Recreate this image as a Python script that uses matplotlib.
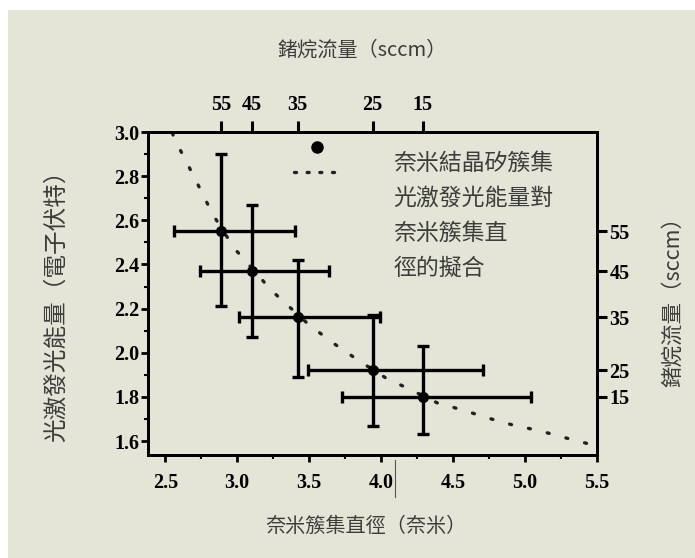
import matplotlib
matplotlib.use('Agg')
import matplotlib.pyplot as plt
from matplotlib.patches import Rectangle
from matplotlib.lines import Line2D
from matplotlib.ticker import MultipleLocator

# nanocluster diameter (nm) vs PL energy (eV)
diam = [2.89, 3.10, 3.42, 3.94, 4.29]
energy = [2.55, 2.37, 2.16, 1.92, 1.80]
diam_lo = [0.33, 0.36, 0.41, 0.45, 0.56]
diam_hi = [0.51, 0.54, 0.57, 0.77, 0.75]
energy_lo = [0.34, 0.30, 0.27, 0.25, 0.17]
energy_hi = [0.35, 0.30, 0.26, 0.25, 0.23]
flow = ['55', '45', '35', '25', '15']

# dotted fit curve
fit_x = [2.55, 2.56, 2.65, 2.74, 2.83, 2.94, 3.00, 3.24, 3.50, 3.68, 3.85,
         4.03, 4.21, 4.39, 4.57, 4.75, 4.92, 5.10, 5.28, 5.45, 5.50]
fit_y = [2.995, 2.974, 2.861, 2.745, 2.627, 2.514, 2.458, 2.281, 2.126, 2.038, 1.962,
         1.887, 1.831, 1.773, 1.740, 1.703, 1.672, 1.647, 1.615, 1.586, 1.578]

cjk = ['Noto Sans CJK TC', 'DejaVu Sans']
txt_col = '#3c3c3c'
bg = '#e4e5d6'
tick_font = {'family': 'Liberation Serif', 'weight': 'bold', 'size': 14.5}
dots = (0, (0.6, 5.2))

fig = plt.figure(figsize=(6.95, 5.58), dpi=100)
fig.patch.set_facecolor('white')
fig.patches.append(Rectangle((8/695, 0), 1, 1 - 10/558, transform=fig.transFigure,
                             facecolor=bg, edgecolor='none', zorder=-5))

ax = fig.add_axes([148/695, 1 - 455/558, 449/695, 323/558])
ax.set_facecolor(bg)
ax.set_xlim(2.38, 5.5)
ax.set_ylim(1.537, 3.0)

ax.plot(fit_x, fit_y, color='#222222', lw=2.4, linestyle=dots,
        dash_capstyle='round', zorder=2)
ax.errorbar(diam, energy, xerr=[diam_lo, diam_hi], yerr=[energy_lo, energy_hi],
            fmt='o', color='black', ms=7, elinewidth=2.4, capsize=4.5, capthick=2.4,
            zorder=3)

for s in ax.spines.values():
    s.set_linewidth(2)
ax.xaxis.set_major_locator(MultipleLocator(0.5))
ax.xaxis.set_minor_locator(MultipleLocator(0.25))
ax.yaxis.set_major_locator(MultipleLocator(0.2))
ax.yaxis.set_minor_locator(MultipleLocator(0.1))
ax.tick_params(which='major', direction='out', length=5, width=2, top=False, right=False)
ax.tick_params(which='minor', direction='out', length=3, width=1.5, top=False, right=False)
ax.tick_params(axis='x', pad=8)
ax.tick_params(axis='y', pad=1)
ax.xaxis.set_major_formatter(plt.FormatStrFormatter('%.1f'))
ax.yaxis.set_major_formatter(plt.FormatStrFormatter('%.1f'))
for lab in ax.get_xticklabels() + ax.get_yticklabels():
    lab.set_fontproperties(tick_font)

# top axis: germane flow
axt = ax.twiny()
axt.set_xlim(ax.get_xlim())
axt.set_xticks(diam)
axt.set_xticklabels(flow, fontdict=tick_font)
axt.tick_params(axis='x', direction='out', length=8, width=2.2, pad=4)

# right axis: germane flow
axr = ax.twinx()
axr.set_ylim(ax.get_ylim())
axr.set_yticks(energy)
axr.set_yticklabels(flow, fontdict=tick_font)
axr.tick_params(axis='y', direction='out', length=7, width=2.2, pad=2)
for a in (axt, axr):
    a.patch.set_visible(False)
    for s in a.spines.values():
        s.set_linewidth(2)

ax.set_xlabel('奈米簇集直徑（奈米）', family=cjk, fontsize=14.5, color=txt_col)
ax.xaxis.set_label_coords(0.485, -0.19)
ax.set_ylabel('光激發光能量（電子伏特）', family=cjk, fontsize=17, color=txt_col)
ax.yaxis.set_label_coords(-0.178, 0.48)
axt.set_xlabel('鍺烷流量（sccm）', family=cjk, fontsize=14.5, color=txt_col)
axt.xaxis.set_label_coords(0.478, 1.235)
axr.set_ylabel('鍺烷流量（sccm）', family=cjk, fontsize=15.5, color=txt_col,
               rotation=90)
axr.yaxis.set_label_coords(1.145, 0.49)

# legend drawn by hand
ax.plot([0.376], [0.954], 'o', color='black', ms=8, transform=ax.transAxes, clip_on=False)
ax.plot([0.325, 0.43], [0.877, 0.877], color='#222222', lw=2.4, linestyle=(0, (0.6, 3.2)),
        dash_capstyle='round', transform=ax.transAxes)
ax.text(0.546, 0.94, '奈米結晶矽簇集\n光激發光能量對\n奈米簇集直\n徑的擬合',
        transform=ax.transAxes, family=cjk, fontsize=16.5, color=txt_col,
        va='top', ha='left', linespacing=1.68)

# thin stray mark under the 4.0 label
fig.add_artist(Line2D([395/695, 395/695], [1 - 460/558, 1 - 497/558],
                      transform=fig.transFigure, color='#555555', lw=0.8))

plt.savefig('out.png', dpi=100, facecolor=fig.get_facecolor())
